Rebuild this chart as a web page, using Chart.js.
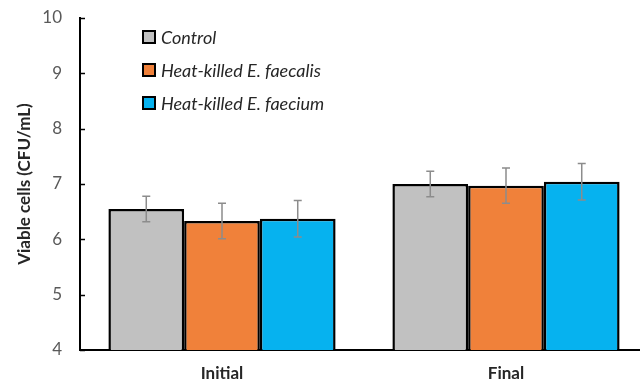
<!DOCTYPE html>
<html>
<head>
<meta charset="utf-8">
<script src="https://cdn.jsdelivr.net/npm/chart.js@4.4.1/dist/chart.umd.min.js"></script>
<style>
  html, body { margin: 0; padding: 0; background: #ffffff; overflow: hidden; }
  #wrap { width: 652px; height: 386px; position: relative; }
</style>
</head>
<body>
<div id="wrap"><canvas id="chart"></canvas></div>
<script>
// Viable cell counts (log CFU/mL) at the start and end of the experiment
const categories = ['Initial', 'Final'];
const seriesNames = ['Control', 'Heat-killed E. faecalis', 'Heat-killed E. faecium'];
const controlValues  = [6.55, 7.00];
const faecalisValues = [6.33, 6.97];
const faeciumValues  = [6.37, 7.04];
const controlErrors  = [0.23, 0.23];
const faecalisErrors = [0.32, 0.32];
const faeciumErrors  = [0.33, 0.33];
const yTicks = [4, 5, 6, 7, 8, 9, 10];

const fills = ['#c1c1c1', '#f0813a', '#06b2ef'];
const FONT = 'Lato, "Liberation Sans", sans-serif';

// Error whiskers drawn on top of each bar
const errorBars = {
  id: 'errorBars',
  afterDatasetsDraw(chart) {
    const { ctx, scales: { y } } = chart;
    ctx.save();
    ctx.strokeStyle = '#8c8c8c';
    ctx.lineWidth = 1.5;
    chart.data.datasets.forEach((ds, di) => {
      const meta = chart.getDatasetMeta(di);
      meta.data.forEach((bar, i) => {
        const v = ds.data[i], e = ds.errors[i];
        const x = bar.x;
        const yTop = y.getPixelForValue(v + e);
        const yBot = y.getPixelForValue(v - e);
        ctx.beginPath();
        ctx.moveTo(x, yTop); ctx.lineTo(x, yBot);
        ctx.moveTo(x - 4, yTop); ctx.lineTo(x + 4, yTop);
        ctx.moveTo(x - 4, yBot); ctx.lineTo(x + 4, yBot);
        ctx.stroke();
      });
    });
    ctx.restore();
  }
};

// Inward tick marks on the value axis and the stacked legend in the plot corner
const decorations = {
  id: 'decorations',
  afterDraw(chart) {
    const { ctx, scales: { y }, chartArea } = chart;
    ctx.save();
    ctx.strokeStyle = '#000000';
    ctx.lineWidth = 1.5;
    yTicks.forEach(t => {
      const py = Math.round(y.getPixelForValue(t)) + 0.5;
      ctx.beginPath();
      ctx.moveTo(chartArea.left, py);
      ctx.lineTo(chartArea.left + 5, py);
      ctx.stroke();
    });

    ctx.font = 'italic 18px ' + FONT;
    ctx.textBaseline = 'middle';
    ctx.textAlign = 'left';
    chart.data.datasets.forEach((ds, i) => {
      const cy = 37 + i * 33;
      ctx.fillStyle = ds.backgroundColor;
      ctx.fillRect(143, cy - 6, 12, 12);
      ctx.strokeStyle = '#000000';
      ctx.lineWidth = 2;
      ctx.strokeRect(143, cy - 6, 12, 12);
      ctx.fillStyle = '#262626';
      ctx.fillText(ds.label, 161, cy + 1);
    });
    ctx.restore();
  }
};

const errorSets = [controlErrors, faecalisErrors, faeciumErrors];
const valueSets = [controlValues, faecalisValues, faeciumValues];

new Chart(document.getElementById('chart'), {
  type: 'bar',
  data: {
    labels: categories,
    datasets: seriesNames.map((name, i) => ({
      label: name,
      data: valueSets[i],
      errors: errorSets[i],
      backgroundColor: fills[i],
      borderColor: '#000000',
      borderWidth: 2.5,
      borderSkipped: 'bottom',
      barPercentage: 1.0,
      categoryPercentage: 0.8
    }))
  },
  options: {
    responsive: true,
    maintainAspectRatio: false,
    animation: false,
    layout: { padding: { top: 18, right: 4, left: 14, bottom: 0 } },
    plugins: {
      legend: { display: false },
      tooltip: { enabled: false }
    },
    scales: {
      x: {
        grid: { display: false, drawTicks: false },
        border: { color: '#000000', width: 2 },
        ticks: {
          color: '#262626',
          padding: 13,
          font: { family: FONT, size: 17, weight: 'bold' }
        },
        afterFit(scale) { scale.height = 36; }
      },
      y: {
        min: 4,
        max: 10,
        afterBuildTicks(scale) { scale.ticks = yTicks.map(v => ({ value: v })); },
        grid: { display: false, drawTicks: false },
        border: { color: '#000000', width: 2 },
        ticks: {
          color: '#595959',
          padding: 18,
          font: { family: FONT, size: 17 }
        },
        title: {
          display: true,
          text: 'Viable cells (CFU/mL)',
          color: '#262626',
          padding: { top: 0, bottom: 0 },
          font: { family: FONT, size: 17, weight: 'bold' }
        },
        afterFit(scale) {
          scale.width = 66;
          scale.paddingTop = 0;
          scale.paddingBottom = 0;
        }
      }
    }
  },
  plugins: [errorBars, decorations]
});
</script>
</body>
</html>
